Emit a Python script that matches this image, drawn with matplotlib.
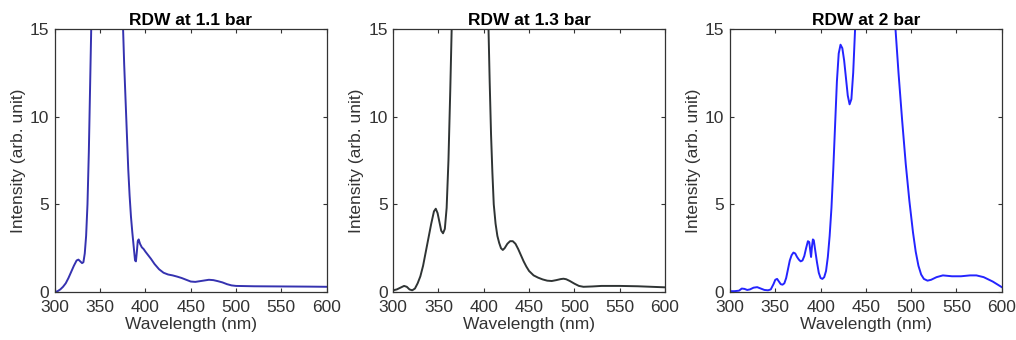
import matplotlib
matplotlib.use("Agg")
import matplotlib.pyplot as plt

plt.rcParams['font.family'] = ['Liberation Sans', 'DejaVu Sans']

titles = ['RDW at 1.1 bar', 'RDW at 1.3 bar', 'RDW at 2 bar']
colors = ['#3532b0', '#2f3434', '#2424ff']

# RDW at 1.1 bar
wl_1 = [300, 303, 306, 309, 312, 315, 318, 321, 324, 326, 328, 330, 331.5, 333, 334.5, 336, 337.5, 339, 340.5,
        345, 355, 365, 372, 375, 376.5, 378, 379.5, 381, 382.5, 384, 385.5, 387, 388.5, 389.5, 390.5,
        391.5, 392.5, 394, 396, 398, 400, 403, 406, 410, 415, 420, 425, 430, 435, 440, 445, 450,
        455, 460, 465, 470, 475, 480, 485, 490, 495, 500, 510, 520, 550, 580, 600]
int_1 = [0.0, 0.05, 0.15, 0.3, 0.5, 0.8, 1.15, 1.5, 1.8, 1.85, 1.75, 1.65, 1.7, 2.2, 3.2, 5.0, 8.0, 12.0, 16.0,
         30, 40, 35, 20, 15.5, 13.0, 11.0, 9.0, 7.0, 5.5, 4.3, 3.4, 2.6, 1.8, 1.75, 2.3,
         2.9, 3.0, 2.75, 2.55, 2.45, 2.3, 2.1, 1.9, 1.6, 1.3, 1.1, 1.0, 0.95, 0.88, 0.8, 0.7, 0.6,
         0.58, 0.62, 0.66, 0.7, 0.68, 0.62, 0.55, 0.45, 0.38, 0.35, 0.34, 0.33, 0.32, 0.31, 0.3]

# RDW at 1.3 bar
wl_2 = [300, 304, 308, 312, 315, 318, 321, 324, 327, 330, 333, 336, 339, 342, 345, 347, 349, 351, 353,
        355, 357, 359, 361, 363, 365, 370, 385, 400, 405, 406.5, 408, 409.5, 411, 413, 415, 417,
        419, 421, 423, 426, 429, 432, 435, 438, 441, 444, 447, 450, 455, 460, 465, 470, 475,
        480, 485, 488, 491, 495, 500, 505, 510, 520, 530, 550, 570, 585, 600]
int_2 = [0.1, 0.15, 0.25, 0.35, 0.3, 0.15, 0.1, 0.2, 0.5, 0.9, 1.5, 2.3, 3.1, 3.9, 4.6, 4.75, 4.5, 4.0, 3.5,
         3.35, 3.6, 4.8, 7.5, 11.5, 16.0, 30, 40, 25, 15.5, 12.0, 9.0, 6.8, 5.0, 3.9, 3.2, 2.8,
         2.5, 2.4, 2.5, 2.75, 2.9, 2.9, 2.75, 2.45, 2.1, 1.75, 1.45, 1.2, 0.95, 0.82, 0.72, 0.65, 0.63,
         0.68, 0.74, 0.76, 0.73, 0.63, 0.48, 0.35, 0.3, 0.32, 0.35, 0.35, 0.33, 0.3, 0.27]

# RDW at 2 bar
wl_3 = [300, 305, 310, 313, 316, 319, 322, 326, 330, 334, 338, 342, 345, 348, 350, 352, 354, 356, 358, 360,
        362, 364, 366, 368, 370, 372, 374, 376, 378, 380, 382, 384, 386, 387.5, 388.5, 389.5, 390.5, 391.5,
        392.5, 394, 396, 398, 400, 402, 404, 406, 408, 410, 412, 414, 416, 418, 420, 422, 424, 426,
        428, 430, 432, 434, 436, 438.5, 445, 460, 475, 482, 486, 490, 494, 498, 502, 505, 508,
        511, 514, 518, 522, 528, 535, 545, 555, 565, 572, 580, 590, 600]
int_3 = [0.05, 0.05, 0.08, 0.2, 0.18, 0.12, 0.15, 0.25, 0.28, 0.2, 0.12, 0.1, 0.15, 0.45, 0.7, 0.75, 0.6, 0.45, 0.42, 0.5,
         0.8, 1.3, 1.8, 2.1, 2.25, 2.2, 2.0, 1.85, 1.75, 1.8, 2.05, 2.5, 2.9, 2.85, 2.4, 2.0, 2.6, 3.0,
         2.95, 2.4, 1.7, 1.1, 0.8, 0.75, 0.85, 1.2, 2.0, 3.2, 4.8, 7.0, 9.5, 12.0, 13.6, 14.1, 13.9, 13.2,
         12.2, 11.2, 10.7, 11.0, 12.5, 15.5, 25, 30, 25, 15.5, 12.5, 9.8, 7.3, 5.2, 3.4, 2.3, 1.5,
         1.0, 0.75, 0.65, 0.7, 0.85, 0.95, 0.9, 0.9, 0.95, 0.95, 0.85, 0.6, 0.28]

series = [(wl_1, int_1), (wl_2, int_2), (wl_3, int_3)]
lefts = [0.054, 0.387, 0.7185]

fig = plt.figure(figsize=(10.16, 3.4), dpi=100)
for i, (wl, inten) in enumerate(series):
    ax = fig.add_axes([lefts[i], 0.141, 0.2675, 0.774])
    ax.plot(wl, inten, color=colors[i], lw=1.4)
    ax.set_xlim(300, 600)
    ax.set_ylim(0, 15)
    ax.set_xticks([300, 350, 400, 450, 500, 550, 600])
    ax.set_yticks([0, 5, 10, 15])
    ax.tick_params(direction='in', top=True, right=True, colors='#333333',
                   labelcolor='#333333', labelsize=12.5, length=3, width=0.8)
    ax.tick_params(axis='x', pad=6)
    ax.tick_params(axis='y', pad=4)
    for sp in ax.spines.values():
        sp.set_color('#333333')
        sp.set_linewidth(0.9)
    ax.set_title(titles[i], fontsize=12.5, fontweight='bold', pad=3)
    ax.set_xlabel('Wavelength (nm)', fontsize=12.5, color='#333333', labelpad=1)
    ax.set_ylabel('Intensity (arb. unit)', fontsize=12.5, color='#333333', labelpad=3)

fig.savefig('out.png', dpi=100)
